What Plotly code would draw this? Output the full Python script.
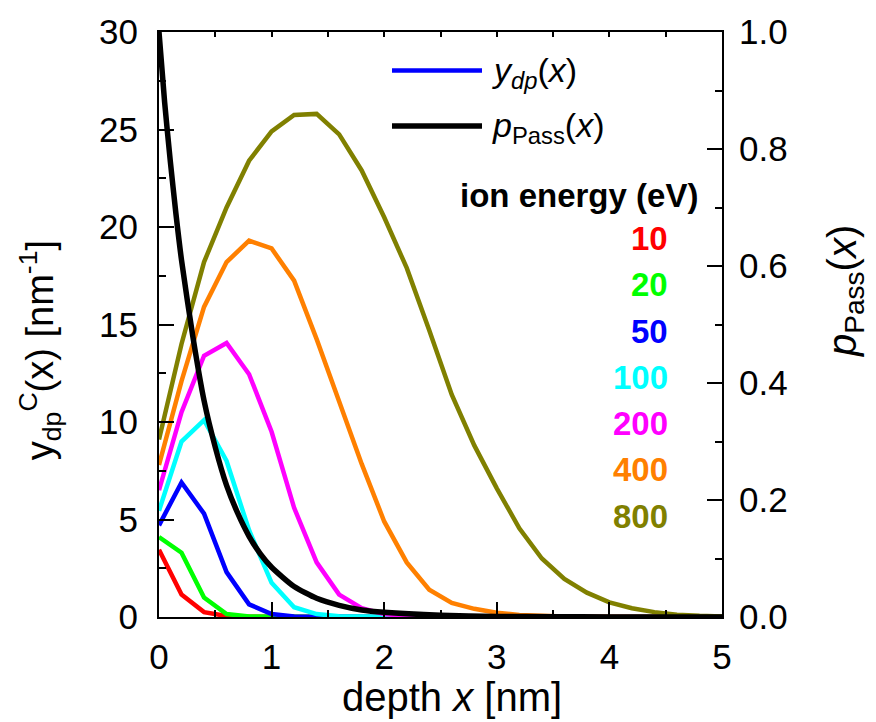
import plotly.graph_objects as go

# depth grid (nm) shared by the damage-profile curves
depth = [0.0, 0.2, 0.4, 0.6, 0.8, 1.0, 1.2, 1.4, 1.6, 1.8, 2.0, 2.2, 2.4,
         2.6, 2.8, 3.0, 3.2, 3.4, 3.6, 3.8, 4.0, 4.2, 4.4, 4.6, 4.8, 5.0]

# ion energies (eV) and their colours
energies = [10, 20, 50, 100, 200, 400, 800]
colors = ["#FF0000", "#00FF00", "#0000FF", "#00FFFF", "#FF00FF", "#FF8000", "#808000"]

# y_dp^C(x) in nm^-1 for each ion energy
y_10 = [3.45, 1.15, 0.25, 0.05, 0.01, 0.0, 0.0, 0.0, 0.0, 0.0, 0.0, 0.0, 0.0,
        0.0, 0.0, 0.0, 0.0, 0.0, 0.0, 0.0, 0.0, 0.0, 0.0, 0.0, 0.0, 0.0]
y_20 = [4.1, 3.3, 1.0, 0.15, 0.03, 0.01, 0.0, 0.0, 0.0, 0.0, 0.0, 0.0, 0.0,
        0.0, 0.0, 0.0, 0.0, 0.0, 0.0, 0.0, 0.0, 0.0, 0.0, 0.0, 0.0, 0.0]
y_50 = [4.7, 6.9, 5.3, 2.3, 0.65, 0.15, 0.03, 0.01, 0.0, 0.0, 0.0, 0.0, 0.0,
        0.0, 0.0, 0.0, 0.0, 0.0, 0.0, 0.0, 0.0, 0.0, 0.0, 0.0, 0.0, 0.0]
y_100 = [5.45, 9.0, 10.1, 8.0, 4.45, 1.75, 0.5, 0.15, 0.04, 0.01, 0.0, 0.0, 0.0,
         0.0, 0.0, 0.0, 0.0, 0.0, 0.0, 0.0, 0.0, 0.0, 0.0, 0.0, 0.0, 0.0]
y_200 = [6.5, 10.5, 13.4, 14.05, 12.45, 9.5, 5.6, 2.8, 1.15, 0.45, 0.15, 0.05, 0.01,
         0.0, 0.0, 0.0, 0.0, 0.0, 0.0, 0.0, 0.0, 0.0, 0.0, 0.0, 0.0, 0.0]
y_400 = [7.8, 12.1, 15.9, 18.2, 19.3, 18.9, 17.25, 14.25, 11.05, 7.85, 4.9, 2.8, 1.4,
         0.72, 0.42, 0.22, 0.1, 0.05, 0.02, 0.01, 0.0, 0.0, 0.0, 0.0, 0.0, 0.0]
y_800 = [9.1, 14.0, 18.2, 21.0, 23.4, 24.9, 25.75, 25.8, 24.75, 22.9, 20.5, 17.9, 14.7,
         11.4, 8.8, 6.6, 4.55, 3.0, 1.95, 1.25, 0.75, 0.45, 0.25, 0.12, 0.06, 0.03]
ydp_series = [y_10, y_20, y_50, y_100, y_200, y_400, y_800]

# passing probability p_Pass(x) on a finer depth grid
pass_depth = [0.0, 0.05, 0.1, 0.15, 0.2, 0.3, 0.4, 0.5, 0.6, 0.7, 0.8, 0.9, 1.0,
              1.2, 1.4, 1.6, 1.8, 2.0, 2.5, 3.0, 3.5, 4.0, 4.5, 5.0]
p_pass = [1.0, 0.88, 0.78, 0.69, 0.61, 0.48, 0.37, 0.29, 0.225, 0.177, 0.138, 0.108, 0.085,
          0.052, 0.032, 0.02, 0.012, 0.008, 0.003, 0.001, 0.0005, 0.0002, 0.0001, 0.0]

# plot-area geometry in pixels
W_PX, H_PX = 876, 722
L, R, T, B = 159, 722, 25, 617


def px_x(p):
    return (p - L) / (R - L)


def px_y(p):
    return (B - p) / (B - T)


FONT = "Liberation Sans, Arial, sans-serif"

fig = go.Figure()

for e, c, ys in zip(energies, colors, ydp_series):
    fig.add_trace(go.Scatter(x=depth, y=ys, mode="lines", name=f"{e} eV",
                             line=dict(color=c, width=4.5), showlegend=False))

fig.add_trace(go.Scatter(x=pass_depth, y=p_pass, mode="lines", name="p_Pass",
                         line=dict(color="black", width=5.5, shape="spline", smoothing=0.6),
                         yaxis="y2", showlegend=False))

# empty trace that carries the top (mirrored) x axis
fig.add_trace(go.Scatter(x=[], y=[], xaxis="x2", yaxis="y", showlegend=False,
                         hoverinfo="skip"))

axis_common = dict(showgrid=False, zeroline=False, showline=True, linecolor="black",
                   linewidth=2, ticks="inside", tickcolor="black", tickwidth=2,
                   tickfont=dict(family=FONT, size=35, color="black"))

fig.update_layout(
    width=W_PX, height=H_PX,
    margin=dict(l=L, r=W_PX - R, t=T, b=H_PX - B),
    paper_bgcolor="white", plot_bgcolor="white",
    showlegend=False,
    xaxis=dict(range=[0, 5], dtick=1, ticklen=15, ticklabelstandoff=8,
               minor=dict(dtick=0.5, ticklen=7, ticks="inside", tickcolor="black", tickwidth=2),
               **axis_common),
    xaxis2=dict(range=[0, 5], overlaying="x", side="top", anchor="y", dtick=0.5,
                ticklen=5, showticklabels=False, showgrid=False, zeroline=False,
                showline=True, linecolor="black", linewidth=2, ticks="inside",
                tickcolor="black", tickwidth=2),
    yaxis=dict(range=[0, 30], dtick=5, ticklen=15, ticklabelstandoff=12,
               minor=dict(dtick=2.5, ticklen=7, ticks="inside", tickcolor="black", tickwidth=2),
               **axis_common),
    yaxis2=dict(range=[0, 1], dtick=0.2, tickformat=".1f", overlaying="y", side="right",
                anchor="x", ticklen=15, ticklabelstandoff=8,
                minor=dict(dtick=0.1, ticklen=7, ticks="inside", tickcolor="black", tickwidth=2),
                **axis_common),
)

ann = []
# axis titles
ann.append(dict(text="depth <i>x</i> [nm]", x=px_x(452), y=px_y(698), xref="paper", yref="paper",
                showarrow=False, xanchor="center", yanchor="middle",
                font=dict(family=FONT, size=40, color="black")))
ann.append(dict(text="y<sub>dp</sub><sup>C</sup>(x) [nm<sup>-1</sup>]", x=px_x(40), y=px_y(347),
                xref="paper", yref="paper", showarrow=False, textangle=-90,
                xanchor="center", yanchor="middle",
                font=dict(family=FONT, size=38, color="black")))
ann.append(dict(text="<i>p</i><sub>Pass</sub>(<i>x</i>)", x=px_x(845), y=px_y(287),
                xref="paper", yref="paper", showarrow=False, textangle=-90,
                xanchor="center", yanchor="middle",
                font=dict(family=FONT, size=40, color="black")))

# legend for the two curve types
legend_items = [("<i>y</i><sub><i>dp</i></sub>(<i>x</i>)", "#0000FF", 4.5, 64),
                ("<i>p</i><sub>Pass</sub>(<i>x</i>)", "black", 5.5, 120)]
shapes = []
for txt, col, w, ypx in legend_items:
    shapes.append(dict(type="line", xref="paper", yref="paper",
                       x0=px_x(392), x1=px_x(482), y0=px_y(ypx), y1=px_y(ypx),
                       line=dict(color=col, width=w)))
    ann.append(dict(text=txt, x=px_x(490), y=px_y(ypx + 2), xref="paper", yref="paper",
                    showarrow=False, xanchor="left", yanchor="middle",
                    font=dict(family=FONT, size=34, color="black")))

# energy key
ann.append(dict(text="<b>ion energy (eV)</b>", x=px_x(700), y=px_y(190), xref="paper",
                yref="paper", showarrow=False, xanchor="right", yanchor="middle",
                font=dict(family=FONT, size=33, color="black")))
for i, (e, c) in enumerate(zip(energies, colors)):
    ann.append(dict(text=f"<b>{e}</b>", x=px_x(670), y=px_y(234 + i * 46.8), xref="paper",
                    yref="paper", showarrow=False, xanchor="right", yanchor="middle",
                    font=dict(family=FONT, size=33, color=c)))

fig.update_layout(annotations=ann, shapes=shapes)

fig.write_html("out.html")
